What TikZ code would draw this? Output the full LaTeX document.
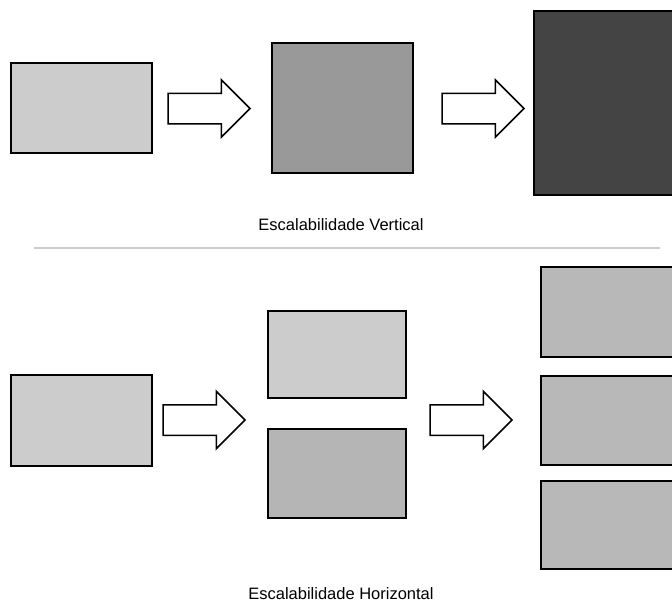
\documentclass[tikz,border=0pt]{standalone}
\usepackage{fontspec}
\setmainfont{Liberation Sans}
\usetikzlibrary{shapes.arrows}
\definecolor{boxlight}{HTML}{CCCCCC}
\definecolor{boxmid}{HTML}{999999}
\definecolor{boxdark}{HTML}{444444}
\definecolor{boxgrey}{HTML}{B5B5B5}
\definecolor{boxrack}{HTML}{B8B8B8}
\definecolor{rulegrey}{HTML}{CCCCCC}
\tikzset{
  server/.style={draw=black, line width=1.5pt, rectangle, inner sep=0pt, outer sep=0pt},
  blockarrow/.style={single arrow, draw=black, fill=white, line width=1.5pt,
    inner xsep=0pt, inner ysep=14.5pt, minimum height=82pt,
    single arrow head extend=13.5pt, single arrow tip angle=90, outer sep=0pt,
    anchor=tail},
  caption/.style={font=\fontsize{16.5}{20}\selectfont, inner sep=0pt}
}
\begin{document}
\begin{tikzpicture}[x=1pt, y=-1pt]
\useasboundingbox (0,0) rectangle (672,605);
\clip (0,0) rectangle (672,605);

% vertical scaling: one server grows bigger
\node[server, fill=boxlight, minimum width=141pt, minimum height=90pt] (v1) at (81.5,108) {};
\node[server, fill=boxmid, minimum width=141pt, minimum height=130pt] (v2) at (342.5,108) {};
\node[server, fill=boxdark, minimum width=166pt, minimum height=184pt] (v3) at (617,103) {};
\node[blockarrow] (va1) at (168,108.5) {};
\node[blockarrow] (va2) at (442,108.5) {};
\node[caption] (vlabel) at (341,225) {Escalabilidade Vertical};

% divider between the two halves
\coordinate (sepL) at (34,248);
\coordinate (sepR) at (660,248);
\draw[rulegrey, line width=2pt] (sepL) -- (sepR);

% horizontal scaling: more servers of the same size
\node[server, fill=boxlight, minimum width=141pt, minimum height=91pt] (h1) at (81.5,420.5) {};
\node[server, fill=boxlight, minimum width=138pt, minimum height=87pt] (h2a) at (337,354.5) {};
\node[server, fill=boxgrey, minimum width=138pt, minimum height=89pt] (h2b) at (337,473.5) {};
\node[server, fill=boxrack, minimum width=159pt, minimum height=90pt] (h3a) at (620.5,312) {};
\node[server, fill=boxrack, minimum width=159pt, minimum height=89pt] (h3b) at (620.5,420.5) {};
\node[server, fill=boxrack, minimum width=159pt, minimum height=88pt] (h3c) at (620.5,525) {};
\node[blockarrow] (ha1) at (163,420) {};
\node[blockarrow] (ha2) at (430,420) {};
\node[caption] (hlabel) at (341,594) {Escalabilidade Horizontal};
\end{tikzpicture}
\end{document}
